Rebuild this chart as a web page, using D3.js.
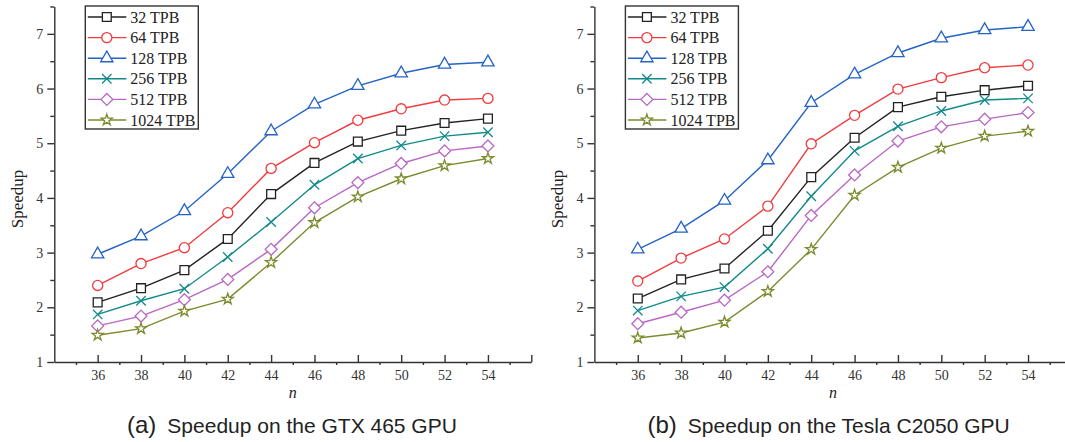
<!DOCTYPE html>
<html>
<head>
<meta charset="utf-8">
<script src="https://cdn.jsdelivr.net/npm/d3@7"></script>
<style>
  body { margin: 0; background: #fff; }
  svg { display: block; }
  .axis path, .axis line { stroke: #333; stroke-width: 1.4; }
</style>
</head>
<body>
<svg id="chart" width="1065" height="442"></svg>
<script>
// x values (problem size n)
const nValues = [36, 38, 40, 42, 44, 46, 48, 50, 52, 54];
const seriesNames = ["32 TPB", "64 TPB", "128 TPB", "256 TPB", "512 TPB", "1024 TPB"];
const seriesColors = ["#222222", "#f23b3e", "#2563c4", "#128a8a", "#b867c4", "#7e8a2e"];
const seriesSymbols = [d3.symbolSquare, d3.symbolCircle, d3.symbolTriangle, d3.symbolTimes, d3.symbolDiamond2, d3.symbolStar];
const symbolSizes = [78, 80, 66, 60, 90, 38];

// (a) GTX 465
const gtx32 = [2.09, 2.35, 2.68, 3.25, 4.07, 4.64, 5.03, 5.23, 5.37, 5.45];
const gtx64 = [2.40, 2.80, 3.09, 3.73, 4.54, 5.01, 5.42, 5.63, 5.79, 5.82];
const gtx128 = [2.97, 3.30, 3.76, 4.44, 5.22, 5.71, 6.05, 6.28, 6.44, 6.48];
const gtx256 = [1.87, 2.12, 2.34, 2.92, 3.56, 4.24, 4.72, 4.96, 5.13, 5.20];
const gtx512 = [1.66, 1.84, 2.14, 2.51, 3.06, 3.82, 4.28, 4.63, 4.86, 4.95];
const gtx1024 = [1.49, 1.61, 1.93, 2.15, 2.82, 3.55, 4.02, 4.35, 4.59, 4.72];

// (b) Tesla C2050
const tesla32 = [2.16, 2.51, 2.71, 3.40, 4.38, 5.10, 5.66, 5.85, 5.97, 6.05];
const tesla64 = [2.48, 2.90, 3.25, 3.85, 4.99, 5.51, 5.99, 6.20, 6.38, 6.43];
const tesla128 = [3.06, 3.44, 3.95, 4.69, 5.74, 6.26, 6.65, 6.92, 7.07, 7.13];
const tesla256 = [1.94, 2.20, 2.37, 3.07, 4.03, 4.86, 5.31, 5.59, 5.79, 5.82];
const tesla512 = [1.70, 1.91, 2.13, 2.65, 3.68, 4.42, 5.04, 5.30, 5.44, 5.56];
const tesla1024 = [1.44, 1.53, 1.73, 2.29, 3.06, 4.05, 4.56, 4.91, 5.13, 5.22];

const xMajor = [36, 38, 40, 42, 44, 46, 48, 50, 52, 54, 56];
const xMinor = [35, 37, 39, 41, 43, 45, 47, 49, 51, 53, 55];
const yMajor = [1, 2, 3, 4, 5, 6, 7];
const yMinor = [1.5, 2.5, 3.5, 4.5, 5.5, 6.5, 7.5];

const serif = "'Liberation Serif', 'Times New Roman', serif";
const svg = d3.select("#chart");

function styleTickText(a) {
    a.selectAll("text")
        .style("font-family", serif)
        .style("font-size", "14px")
        .style("fill", "#333");
}

function drawPanel(opts) {
    const x = d3.scaleLinear().domain([34, 56]).range([opts.left, opts.left + 477]);
    const y = d3.scaleLinear().domain([1, 7.5]).range([362, 6.5]);
    const g = svg.append("g");

    // minor ticks first so the axis line sits on top
    g.append("g").attr("class", "axis")
        .attr("transform", `translate(0,${y(1)})`)
        .call(d3.axisBottom(x).tickValues(xMinor).tickSize(3).tickSizeOuter(0).tickFormat(""))
        .call(a => a.select(".domain").remove());
    g.append("g").attr("class", "axis")
        .attr("transform", `translate(${x(34)},0)`)
        .call(d3.axisLeft(y).tickValues(yMinor).tickSize(4).tickSizeOuter(0).tickFormat(""))
        .call(a => a.select(".domain").remove());

    g.append("g").attr("class", "axis")
        .attr("transform", `translate(0,${y(1)})`)
        .call(d3.axisBottom(x).tickValues(xMajor).tickSize(-7).tickSizeOuter(0).tickPadding(8)
            .tickFormat(d => d === 56 ? "" : d))
        .call(styleTickText);
    g.append("g").attr("class", "axis")
        .attr("transform", `translate(${x(34)},0)`)
        .call(d3.axisLeft(y).tickValues(yMajor).tickSize(7).tickSizeOuter(0).tickPadding(4)
            .tickFormat(d3.format("d")))
        .call(styleTickText);

    // axis titles
    g.append("text")
        .attr("transform", `translate(${opts.left - 37},${199}) rotate(-90)`)
        .attr("text-anchor", "middle")
        .attr("dominant-baseline", "central")
        .style("font-family", serif)
        .style("font-size", "17px").style("fill", "#222")
        .text("Speedup");
    g.append("text")
        .attr("x", x(45)).attr("y", 398)
        .attr("text-anchor", "middle")
        .style("font-family", serif)
        .style("font-style", "italic")
        .style("font-size", "16px").style("fill", "#222")
        .text("n");

    const line = d3.line().x((d, i) => x(nValues[i])).y(d => y(d));

    opts.series.forEach((vals, s) => {
        g.append("path")
            .datum(vals)
            .attr("d", line)
            .attr("fill", "none")
            .attr("stroke", seriesColors[s])
            .attr("stroke-width", 1.4);
        g.selectAll(null)
            .data(vals)
            .enter()
            .append("path")
            .attr("transform", (d, i) => `translate(${x(nValues[i])},${y(d)})`)
            .attr("d", d3.symbol(seriesSymbols[s], symbolSizes[s]))
            .attr("fill", s === 3 ? "none" : "#fff")
            .attr("stroke", seriesColors[s])
            .attr("stroke-width", 1.3);
    });

    // legend
    const lx = opts.left + 31;
    const legend = g.append("g");
    legend.append("rect")
        .attr("x", lx).attr("y", 6)
        .attr("width", 113).attr("height", 123)
        .attr("fill", "#fff").attr("stroke", "#333").attr("stroke-width", 1.4);
    seriesNames.forEach((name, s) => {
        const ly = 17 + s * 20.6;
        legend.append("line")
            .attr("x1", lx + 2.5).attr("x2", lx + 41)
            .attr("y1", ly).attr("y2", ly)
            .attr("stroke", seriesColors[s]).attr("stroke-width", 1.4);
        legend.append("path")
            .attr("transform", `translate(${lx + 21.5},${ly})`)
            .attr("d", d3.symbol(seriesSymbols[s], symbolSizes[s]))
            .attr("fill", s === 3 ? "none" : "#fff")
            .attr("stroke", seriesColors[s]).attr("stroke-width", 1.3);
        legend.append("text")
            .attr("x", lx + 45).attr("y", ly)
            .attr("dominant-baseline", "central")
            .style("font-family", serif)
            .style("font-size", "16px").style("fill", "#222")
            .text(name);
    });

    // caption
    const cap = g.append("text")
        .attr("x", opts.capX).attr("y", 433)
        .style("font-family", "'Liberation Sans', Arial, sans-serif")
        .style("fill", "#222");
    cap.append("tspan").style("font-size", "24px").text(opts.capLabel);
    cap.append("tspan").attr("dx", 11).style("font-size", "21px").text(opts.capText);
}

drawPanel({
    left: 54.3,
    series: [gtx32, gtx64, gtx128, gtx256, gtx512, gtx1024],
    capX: 127, capLabel: "(a)", capText: "Speedup on the GTX 465 GPU"
});
drawPanel({
    left: 594.4,
    series: [tesla32, tesla64, tesla128, tesla256, tesla512, tesla1024],
    capX: 647.5, capLabel: "(b)", capText: "Speedup on the Tesla C2050 GPU"
});
</script>
</body>
</html>
